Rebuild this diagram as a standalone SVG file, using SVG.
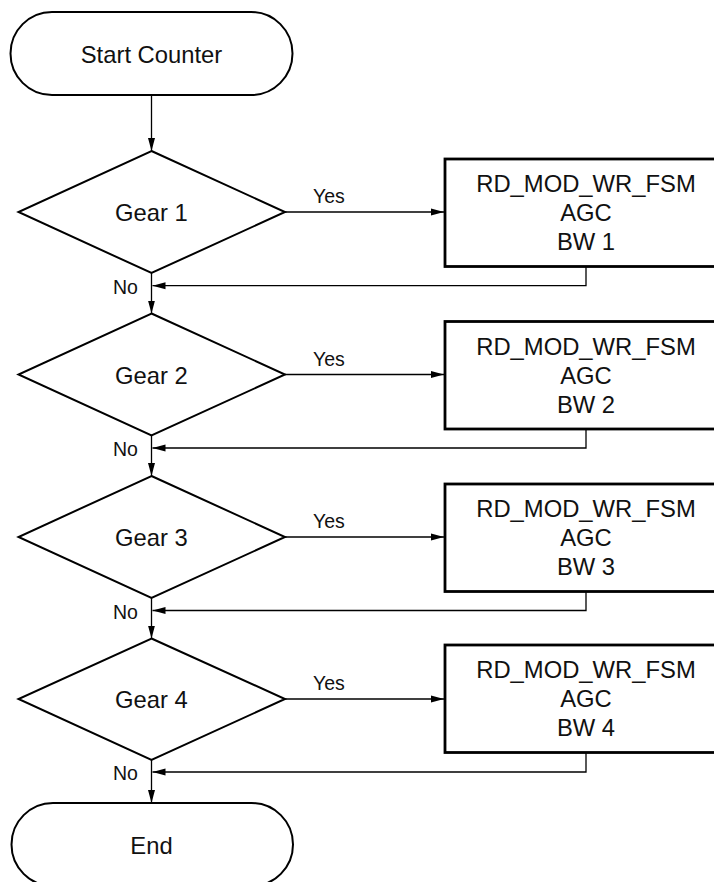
<svg xmlns="http://www.w3.org/2000/svg" width="714" height="882" viewBox="0 0 714 882">
  <style>
    .term { fill: #fff; stroke: #000; stroke-width: 2; }
    .dec { fill: #fff; stroke: #000; stroke-width: 2; }
    .proc { fill: #fff; stroke: #000; stroke-width: 2.8; }
    .wire { fill: none; stroke: #000; stroke-width: 1.3; }
    .t { font-family: "Liberation Sans", Arial, Helvetica, sans-serif; font-size: 23.8px; fill: #111; text-anchor: middle; }
    .lbl { font-family: "Liberation Sans", Arial, Helvetica, sans-serif; font-size: 19.5px; fill: #111; }
  </style>
  <defs>
    <marker id="arrow" markerUnits="userSpaceOnUse" markerWidth="14" markerHeight="8" refX="13" refY="4" orient="auto">
      <path d="M0,0.5 L13,4 L0,7.5 Z" fill="#000"/>
    </marker>
  </defs>

  <rect width="714" height="882" fill="#fff"/>

  <!-- connectors -->
  <g id="connectors">
    <line class="wire" x1="151.5" y1="95" x2="151.5" y2="151" marker-end="url(#arrow)"/>

    <!-- gear 1 -->
    <line class="wire" x1="285" y1="212" x2="444" y2="212" marker-end="url(#arrow)"/>
    <line class="wire" x1="151.5" y1="273" x2="151.5" y2="313.5" marker-end="url(#arrow)"/>
    <polyline class="wire" points="586,266.5 586,285.7 152.5,285.7" marker-end="url(#arrow)"/>

    <!-- gear 2 -->
    <line class="wire" x1="285" y1="374.5" x2="444" y2="374.5" marker-end="url(#arrow)"/>
    <line class="wire" x1="151.5" y1="435.5" x2="151.5" y2="476" marker-end="url(#arrow)"/>
    <polyline class="wire" points="586,429 586,448 152.5,448" marker-end="url(#arrow)"/>

    <!-- gear 3 -->
    <line class="wire" x1="285" y1="537" x2="444" y2="537" marker-end="url(#arrow)"/>
    <line class="wire" x1="151.5" y1="598" x2="151.5" y2="638.5" marker-end="url(#arrow)"/>
    <polyline class="wire" points="586,591.5 586,610.5 152.5,610.5" marker-end="url(#arrow)"/>

    <!-- gear 4 -->
    <line class="wire" x1="285" y1="699" x2="444" y2="699" marker-end="url(#arrow)"/>
    <line class="wire" x1="151.5" y1="760" x2="151.5" y2="803" marker-end="url(#arrow)"/>
    <polyline class="wire" points="586,752.5 586,772 152.5,772" marker-end="url(#arrow)"/>

    <!-- branch labels -->
    <text class="lbl" x="313" y="203">Yes</text>
    <text class="lbl" x="113" y="293.5">No</text>
    <text class="lbl" x="313" y="365.5">Yes</text>
    <text class="lbl" x="113" y="456">No</text>
    <text class="lbl" x="313" y="528">Yes</text>
    <text class="lbl" x="113" y="618.5">No</text>
    <text class="lbl" x="313" y="690">Yes</text>
    <text class="lbl" x="113" y="780">No</text>
  </g>

  <g id="start">
    <rect class="term" x="10.5" y="12" width="282" height="83" rx="41.5" ry="41.5"/>
    <text class="t" x="151.5" y="63">Start Counter</text>
  </g>

  <g id="gear1">
    <polygon class="dec" points="151.5,151 285,212 151.5,273 18.5,212"/>
    <text class="t" x="151.5" y="221">Gear 1</text>
  </g>
  <g id="bw1">
    <rect class="proc" x="445" y="159" width="283" height="107.5"/>
    <text class="t" x="586" y="192">RD_MOD_WR_FSM</text>
    <text class="t" x="586" y="221">AGC</text>
    <text class="t" x="586" y="250">BW 1</text>
  </g>

  <g id="gear2">
    <polygon class="dec" points="151.5,313.5 285,374.5 151.5,435.5 18.5,374.5"/>
    <text class="t" x="151.5" y="383.5">Gear 2</text>
  </g>
  <g id="bw2">
    <rect class="proc" x="445" y="321.5" width="283" height="107.5"/>
    <text class="t" x="586" y="354.5">RD_MOD_WR_FSM</text>
    <text class="t" x="586" y="383.5">AGC</text>
    <text class="t" x="586" y="412.5">BW 2</text>
  </g>

  <g id="gear3">
    <polygon class="dec" points="151.5,476 285,537 151.5,598 18.5,537"/>
    <text class="t" x="151.5" y="546">Gear 3</text>
  </g>
  <g id="bw3">
    <rect class="proc" x="445" y="484" width="283" height="107.5"/>
    <text class="t" x="586" y="517">RD_MOD_WR_FSM</text>
    <text class="t" x="586" y="546">AGC</text>
    <text class="t" x="586" y="575">BW 3</text>
  </g>

  <g id="gear4">
    <polygon class="dec" points="151.5,638.5 285,699 151.5,760 18.5,699"/>
    <text class="t" x="151.5" y="708">Gear 4</text>
  </g>
  <g id="bw4">
    <rect class="proc" x="445" y="645" width="283" height="107.5"/>
    <text class="t" x="586" y="678">RD_MOD_WR_FSM</text>
    <text class="t" x="586" y="707">AGC</text>
    <text class="t" x="586" y="736">BW 4</text>
  </g>

  <g id="end">
    <rect class="term" x="11.5" y="803" width="281.5" height="83" rx="41.5" ry="41.5"/>
    <text class="t" x="151.5" y="854">End</text>
  </g>
</svg>
